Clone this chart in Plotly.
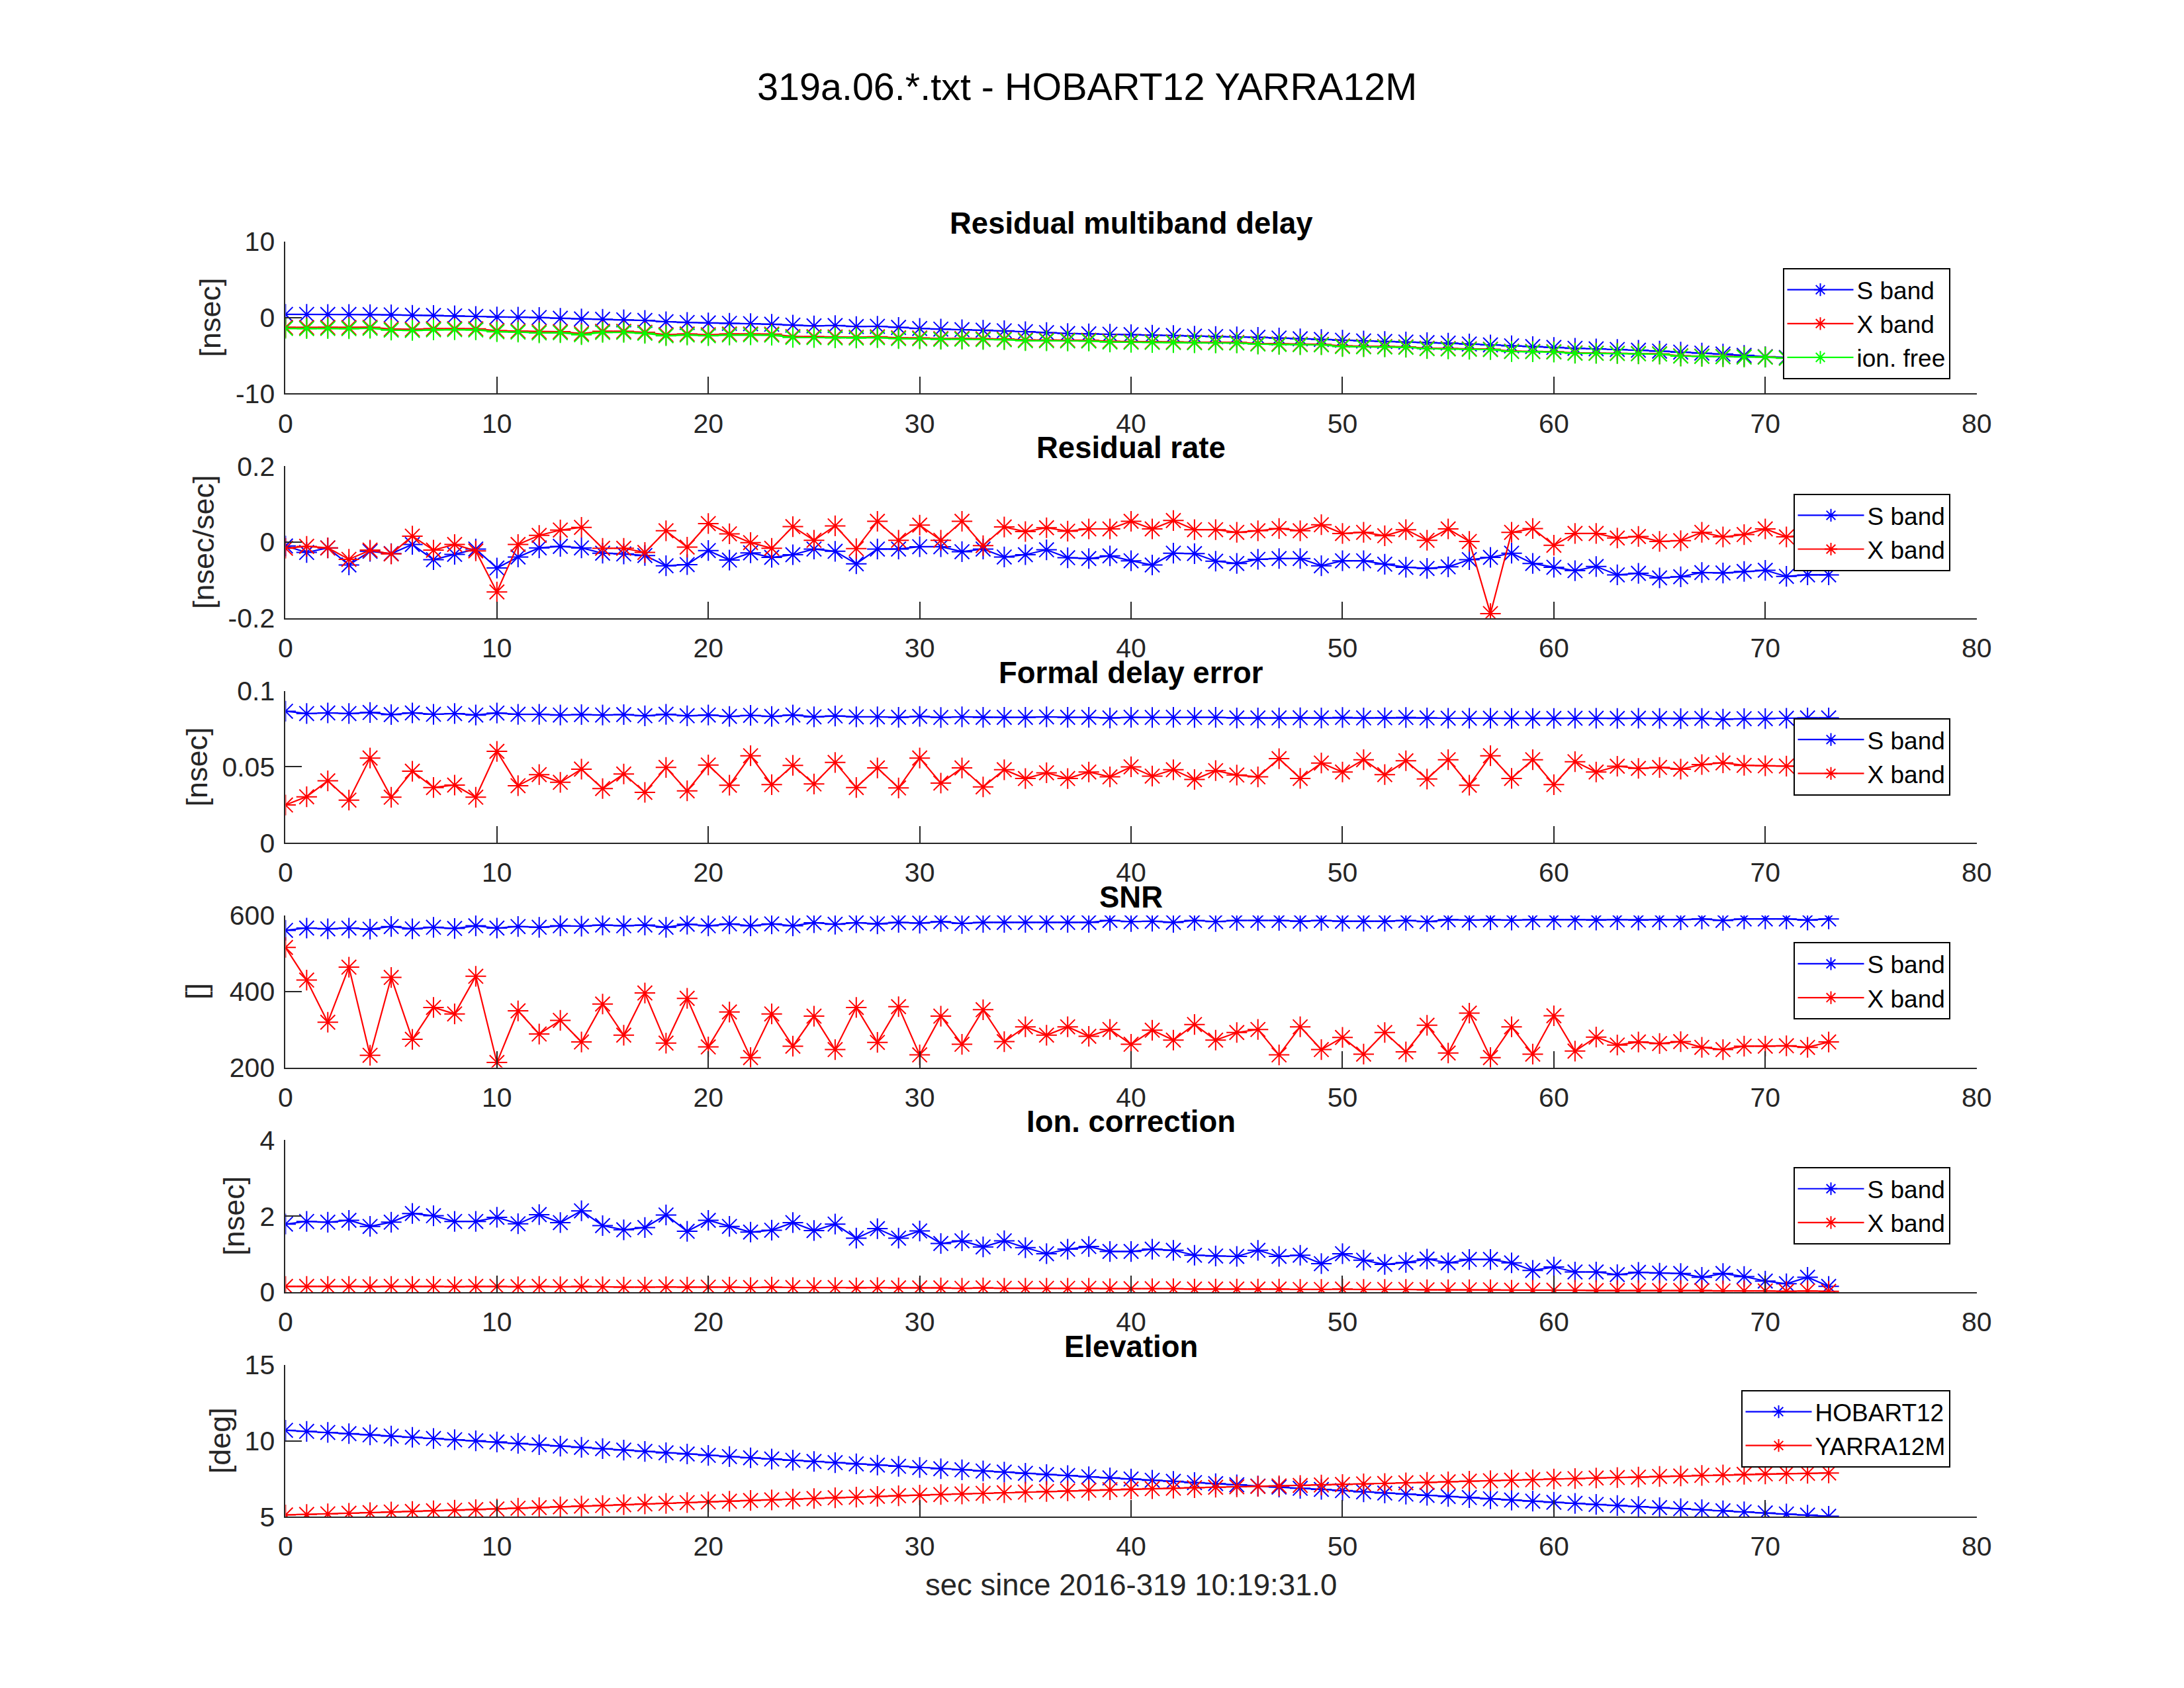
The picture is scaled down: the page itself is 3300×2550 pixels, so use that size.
import plotly.graph_objects as go

# seconds since scan start, one sample per second
secs = list(range(74))

# Residual multiband delay [nsec]
mbd_s = [0.42, 0.42, 0.41, 0.40, 0.38, 0.35, 0.30, 0.27, 0.22, 0.15,
         0.07, 0.05, 0.00, -0.10, -0.18, -0.22, -0.30, -0.38, -0.55, -0.65,
         -0.71, -0.76, -0.80, -0.88, -1.00, -1.10, -1.05, -1.18, -1.15, -1.30,
         -1.44, -1.52, -1.60, -1.66, -1.74, -1.86, -1.98, -2.10, -2.15, -2.20,
         -2.25, -2.32, -2.36, -2.45, -2.50, -2.55, -2.60, -2.70, -2.80, -2.88,
         -2.98, -3.08, -3.15, -3.22, -3.30, -3.36, -3.48, -3.60, -3.72, -3.82,
         -3.93, -4.05, -4.12, -4.20, -4.30, -4.42, -4.55, -4.68, -4.80, -4.98,
         -5.15, -5.25, -5.32, -5.38]
mbd_x = [-1.30, -1.31, -1.30, -1.32, -1.28, -1.51, -1.55, -1.47, -1.46, -1.48,
         -1.73, -1.78, -1.87, -1.86, -2.11, -1.82, -1.82, -1.95, -2.26, -2.17,
         -2.27, -2.17, -2.16, -2.19, -2.50, -2.52, -2.56, -2.59, -2.54, -2.67,
         -2.69, -2.77, -2.76, -2.79, -2.82, -2.95, -2.96, -2.98, -3.00, -3.13,
         -3.17, -3.19, -3.21, -3.24, -3.26, -3.28, -3.42, -3.47, -3.51, -3.53,
         -3.74, -3.79, -3.81, -3.85, -4.04, -4.08, -4.12, -4.16, -4.43, -4.45,
         -4.49, -4.65, -4.68, -4.70, -4.74, -4.78, -5.04, -5.09, -5.13, -5.17,
         -5.19, -5.34, -5.35, -5.40]
mbd_free = [-1.44, -1.46, -1.45, -1.47, -1.42, -1.66, -1.70, -1.62, -1.60, -1.63,
            -1.88, -1.92, -2.02, -2.00, -2.26, -1.96, -1.95, -2.08, -2.40, -2.30,
            -2.40, -2.30, -2.28, -2.32, -2.62, -2.64, -2.68, -2.70, -2.66, -2.78,
            -2.80, -2.88, -2.86, -2.90, -2.92, -3.05, -3.06, -3.08, -3.10, -3.22,
            -3.26, -3.28, -3.30, -3.32, -3.34, -3.36, -3.50, -3.55, -3.58, -3.60,
            -3.82, -3.86, -3.88, -3.92, -4.10, -4.14, -4.18, -4.22, -4.48, -4.50,
            -4.54, -4.70, -4.72, -4.74, -4.78, -4.82, -5.08, -5.12, -5.16, -5.20,
            -5.22, -5.36, -5.38, -5.42]

# Residual rate [nsec/sec]
rate_s = [-0.010, -0.027, -0.015, -0.060, -0.024, -0.030, -0.006, -0.046, -0.032, -0.018,
          -0.068, -0.039, -0.015, -0.011, -0.015, -0.029, -0.031, -0.035, -0.062, -0.059,
          -0.022, -0.047, -0.028, -0.040, -0.033, -0.018, -0.024, -0.057, -0.018, -0.018,
          -0.012, -0.012, -0.025, -0.018, -0.039, -0.033, -0.020, -0.041, -0.043, -0.036,
          -0.049, -0.060, -0.029, -0.030, -0.050, -0.056, -0.045, -0.043, -0.043, -0.062,
          -0.049, -0.049, -0.058, -0.066, -0.069, -0.065, -0.046, -0.040, -0.029, -0.056,
          -0.066, -0.075, -0.064, -0.086, -0.082, -0.094, -0.091, -0.080, -0.081, -0.077,
          -0.074, -0.090, -0.086, -0.086]
rate_x = [-0.016, -0.011, -0.015, -0.045, -0.021, -0.031, 0.016, -0.021, -0.006, -0.023,
          -0.131, -0.006, 0.018, 0.032, 0.039, -0.016, -0.016, -0.027, 0.030, -0.013,
          0.049, 0.022, -0.001, -0.016, 0.041, 0.005, 0.043, -0.017, 0.055, 0.005,
          0.045, 0.005, 0.055, -0.009, 0.040, 0.028, 0.038, 0.029, 0.035, 0.035,
          0.055, 0.035, 0.057, 0.033, 0.033, 0.026, 0.030, 0.036, 0.030, 0.046,
          0.023, 0.026, 0.017, 0.033, 0.005, 0.035, 0.002, -0.188, 0.026, 0.036,
          -0.008, 0.023, 0.023, 0.011, 0.015, 0.002, 0.004, 0.026, 0.014, 0.020,
          0.035, 0.014, 0.020, 0.020]

# Formal delay error [nsec]
ferr_s = [0.0866, 0.0851, 0.0855, 0.0851, 0.0858, 0.0844, 0.0855, 0.0846, 0.0851, 0.0841,
          0.0854, 0.0846, 0.0846, 0.0841, 0.0844, 0.0841, 0.0844, 0.0836, 0.0846, 0.0836,
          0.0841, 0.0832, 0.0839, 0.0832, 0.0841, 0.0829, 0.0835, 0.0829, 0.0829, 0.0826,
          0.0832, 0.0825, 0.0829, 0.0826, 0.0826, 0.0826, 0.0829, 0.0826, 0.0826, 0.0822,
          0.0826, 0.0825, 0.0826, 0.0825, 0.0826, 0.0822, 0.0822, 0.0822, 0.0823, 0.0822,
          0.0825, 0.0822, 0.0823, 0.0825, 0.0822, 0.0820, 0.0820, 0.0820, 0.0819, 0.0819,
          0.0819, 0.0820, 0.0820, 0.0819, 0.0820, 0.0819, 0.0817, 0.0819, 0.0814, 0.0817,
          0.0817, 0.0820, 0.0822, 0.0822]
ferr_x = [0.0249, 0.0303, 0.0408, 0.0281, 0.0558, 0.0300, 0.0471, 0.0364, 0.0380, 0.0300,
          0.0602, 0.0376, 0.0449, 0.0398, 0.0485, 0.0357, 0.0453, 0.0332, 0.0496, 0.0342,
          0.0512, 0.0379, 0.0573, 0.0383, 0.0510, 0.0387, 0.0529, 0.0364, 0.0493, 0.0361,
          0.0558, 0.0393, 0.0493, 0.0368, 0.0481, 0.0423, 0.0461, 0.0423, 0.0466, 0.0434,
          0.0500, 0.0439, 0.0481, 0.0417, 0.0475, 0.0446, 0.0434, 0.0554, 0.0424, 0.0525,
          0.0466, 0.0547, 0.0449, 0.0540, 0.0420, 0.0547, 0.0379, 0.0573, 0.0424, 0.0547,
          0.0383, 0.0534, 0.0466, 0.0504, 0.0490, 0.0496, 0.0485, 0.0515, 0.0526, 0.0510,
          0.0507, 0.0505, 0.0500, 0.0500]

# SNR
snr_s = [561, 567, 565, 567, 564, 571, 565, 569, 566, 573,
         567, 571, 569, 573, 572, 575, 573, 575, 569, 577,
         573, 578, 573, 578, 573, 581, 577, 581, 578, 582,
         580, 584, 579, 582, 582, 582, 582, 582, 582, 587,
         584, 585, 582, 587, 584, 587, 587, 587, 585, 587,
         585, 585, 585, 587, 584, 589, 588, 589, 588, 589,
         589, 589, 588, 589, 588, 589, 589, 591, 587, 591,
         591, 591, 588, 591]
snr_x = [516, 430, 319, 464, 232, 437, 274, 358, 341, 440,
         213, 349, 288, 324, 267, 367, 285, 396, 264, 382,
         254, 346, 226, 341, 256, 335, 247, 358, 266, 360,
         233, 335, 261, 352, 268, 307, 285, 307, 282, 300,
         261, 298, 272, 313, 272, 292, 300, 233, 307, 247,
         279, 235, 292, 241, 311, 238, 343, 226, 307, 235,
         336, 243, 280, 259, 267, 263, 268, 253, 247, 256,
         256, 257, 253, 267]

# Ionospheric correction [nsec]
ion_s = [1.79, 1.86, 1.84, 1.89, 1.73, 1.84, 2.07, 2.01, 1.86, 1.86,
         1.97, 1.80, 2.04, 1.83, 2.14, 1.75, 1.64, 1.70, 2.03, 1.60,
         1.89, 1.73, 1.58, 1.63, 1.83, 1.62, 1.79, 1.42, 1.67, 1.42,
         1.61, 1.28, 1.35, 1.19, 1.35, 1.17, 1.01, 1.13, 1.20, 1.07,
         1.07, 1.13, 1.10, 0.97, 0.95, 0.94, 1.10, 0.94, 0.97, 0.75,
         1.01, 0.84, 0.73, 0.78, 0.87, 0.77, 0.86, 0.86, 0.77, 0.57,
         0.66, 0.53, 0.53, 0.46, 0.52, 0.50, 0.49, 0.39, 0.49, 0.41,
         0.29, 0.22, 0.39, 0.15]
ion_x = [0.15, 0.15, 0.15, 0.15, 0.14, 0.15, 0.15, 0.15, 0.14, 0.15,
         0.15, 0.14, 0.15, 0.14, 0.15, 0.14, 0.13, 0.13, 0.14, 0.13,
         0.13, 0.13, 0.12, 0.13, 0.12, 0.12, 0.12, 0.11, 0.12, 0.11,
         0.11, 0.11, 0.10, 0.11, 0.10, 0.10, 0.10, 0.10, 0.10, 0.09,
         0.09, 0.09, 0.09, 0.08, 0.08, 0.08, 0.08, 0.08, 0.07, 0.07,
         0.08, 0.07, 0.07, 0.07, 0.06, 0.06, 0.06, 0.06, 0.05, 0.05,
         0.05, 0.05, 0.04, 0.04, 0.04, 0.04, 0.04, 0.04, 0.03, 0.03,
         0.03, 0.02, 0.03, 0.02]

# Elevation [deg]
elev_hob = [10.69, 10.62, 10.55, 10.47, 10.39, 10.31, 10.23, 10.15, 10.07, 10.00,
            9.92, 9.83, 9.74, 9.65, 9.57, 9.48, 9.39, 9.30, 9.21, 9.13,
            9.04, 8.96, 8.88, 8.80, 8.72, 8.64, 8.56, 8.48, 8.40, 8.32,
            8.24, 8.16, 8.09, 8.01, 7.94, 7.86, 7.78, 7.71, 7.63, 7.56,
            7.48, 7.40, 7.33, 7.25, 7.18, 7.10, 7.02, 6.95, 6.87, 6.80,
            6.72, 6.64, 6.56, 6.49, 6.41, 6.33, 6.26, 6.18, 6.10, 6.03,
            5.95, 5.88, 5.81, 5.74, 5.67, 5.60, 5.53, 5.46, 5.39, 5.32,
            5.25, 5.18, 5.11, 5.03]
elev_yar = [5.12, 5.15, 5.19, 5.23, 5.27, 5.31, 5.35, 5.39, 5.43, 5.47,
            5.51, 5.56, 5.60, 5.65, 5.70, 5.74, 5.79, 5.84, 5.88, 5.93,
            5.98, 6.02, 6.07, 6.11, 6.16, 6.20, 6.25, 6.29, 6.34, 6.38,
            6.42, 6.46, 6.50, 6.54, 6.58, 6.62, 6.66, 6.70, 6.74, 6.78,
            6.82, 6.85, 6.88, 6.91, 6.94, 6.97, 7.00, 7.03, 7.06, 7.09,
            7.12, 7.16, 7.19, 7.23, 7.26, 7.30, 7.34, 7.37, 7.41, 7.44,
            7.48, 7.51, 7.55, 7.58, 7.61, 7.65, 7.68, 7.72, 7.75, 7.79,
            7.82, 7.84, 7.86, 7.88]

# axis ticks
x_ticks = [0, 10, 20, 30, 40, 50, 60, 70, 80]
y_ticks = [[-10, 0, 10], [-0.2, 0, 0.2], [0, 0.05, 0.1],
           [200, 400, 600], [0, 2, 4], [5, 10, 15]]
y_ticktext = [["-10", "0", "10"], ["-0.2", "0", "0.2"], ["0", "0.05", "0.1"],
              ["200", "400", "600"], ["0", "2", "4"], ["5", "10", "15"]]

titles = ["Residual multiband delay", "Residual rate", "Formal delay error",
          "SNR", "Ion. correction", "Elevation"]
ylabels = ["[nsec]", "[nsec/sec]", "[nsec]", "[]", "[nsec]", "[deg]"]

panels = [
    [("S band", mbd_s, "#0000ff"), ("X band", mbd_x, "#ff0000"), ("ion. free", mbd_free, "#00ff00")],
    [("S band", rate_s, "#0000ff"), ("X band", rate_x, "#ff0000")],
    [("S band", ferr_s, "#0000ff"), ("X band", ferr_x, "#ff0000")],
    [("S band", snr_s, "#0000ff"), ("X band", snr_x, "#ff0000")],
    [("S band", ion_s, "#0000ff"), ("X band", ion_x, "#ff0000")],
    [("HOBART12", elev_hob, "#0000ff"), ("YARRA12M", elev_yar, "#ff0000")],
]

W, H = 3300, 2550
FONT = "Liberation Sans, Arial, Helvetica, sans-serif"
AX = "#262626"

# axes boxes in page pixels (top, bottom)
box_top0, box_step, box_h = 340.1, 345.6, 233.7
x_left, x_right = 416.7, 2998.6
ylabel_x = [302, 291, 281, 281, 338, 317]
legend_top = [381, 728, 1073, 1418, 1764, 2107]
legend_right = 2958

fig = go.Figure()
layout = {}
annotations = []

for i, series in enumerate(panels):
    n = i + 1
    xa = "x" if n == 1 else "x%d" % n
    ya = "y" if n == 1 else "y%d" % n
    lg = "legend" if n == 1 else "legend%d" % n
    for name, vals, col in series:
        fig.add_trace(go.Scatter(
            x=secs, y=vals, name=name, mode="lines+markers",
            line=dict(color=col, width=2.2),
            marker=dict(symbol="asterisk-open", size=26, color=col,
                        line=dict(color=col, width=2)),
            xaxis=xa, yaxis=ya, legend=lg))

    top = box_top0 + i * box_step
    bot = top + box_h
    dom_y = [1 - bot / H, 1 - top / H]
    common = dict(showline=True, linecolor=AX, linewidth=2, ticks="inside",
                  ticklen=25, tickwidth=2, tickcolor=AX, showgrid=False,
                  zeroline=False, mirror=False,
                  tickfont=dict(family=FONT, size=41, color=AX))
    layout["xaxis" if n == 1 else "xaxis%d" % n] = dict(
        domain=[x_left / W, x_right / W], range=[0, 80], tickvals=x_ticks,
        anchor=ya, ticklabelstandoff=8, **common)
    layout["yaxis" if n == 1 else "yaxis%d" % n] = dict(
        domain=dom_y, range=[y_ticks[i][0], y_ticks[i][-1]],
        tickvals=y_ticks[i], ticktext=y_ticktext[i], anchor=xa,
        ticklabelstandoff=6, **common)
    layout[lg] = dict(x=legend_right / W, xanchor="right", y=1 - legend_top[i] / H,
                      yanchor="top", bgcolor="white", bordercolor="#000000",
                      borderwidth=2, font=dict(family=FONT, size=37, color="black"),
                      itemwidth=100, tracegroupgap=0)

    annotations.append(dict(text="<b>%s</b>" % titles[i], x=(x_left + x_right) / 2 / W,
                            y=dom_y[1], xref="paper", yref="paper", xanchor="center",
                            yanchor="bottom", yshift=0, showarrow=False,
                            font=dict(family=FONT, size=45.5, color="black")))
    annotations.append(dict(text=ylabels[i], x=ylabel_x[i] / W, y=sum(dom_y) / 2,
                            xref="paper", yref="paper", xanchor="center",
                            yanchor="middle", textangle=-90, showarrow=False,
                            font=dict(family=FONT, size=45, color=AX)))

annotations.append(dict(text="319a.06.*.txt - HOBART12 YARRA12M", x=1640.7 / W, y=1 - 102 / H,
                        xref="paper", yref="paper", xanchor="center", yanchor="middle",
                        showarrow=False, font=dict(family=FONT, size=57.5, color="black")))
annotations.append(dict(text="sec since 2016-319 10:19:31.0", x=(x_left + x_right) / 2 / W,
                        y=1 - 2407 / H, xref="paper", yref="paper", xanchor="center",
                        yanchor="middle", showarrow=False,
                        font=dict(family=FONT, size=45.5, color=AX)))

fig.update_layout(**layout)
fig.update_layout(width=W, height=H, margin=dict(l=0, r=0, t=0, b=0),
                  autosize=False, paper_bgcolor="white", plot_bgcolor="white",
                  annotations=annotations, showlegend=True)

fig.write_html("out.html")
